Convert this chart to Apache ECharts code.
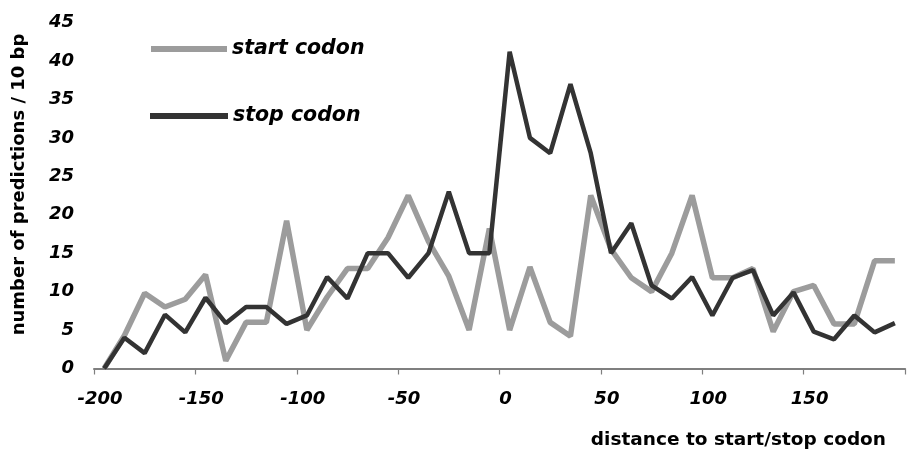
<!DOCTYPE html>
<html>
<head>
<meta charset="utf-8">
<script src="https://cdn.jsdelivr.net/npm/echarts@6/dist/echarts.min.js"></script>
<style>
html,body{margin:0;padding:0;background:#fff;}
#chart{width:908px;height:459px;}
</style>
</head>
<body>
<div id="chart"></div>
<script>
// distance to start/stop codon (bin centres, bp)
var distances = [-195,-185,-175,-165,-155,-145,-135,-125,-115,-105,
                 -95,-85,-75,-65,-55,-45,-35,-25,-15,-5,
                 5,15,25,35,45,55,65,75,85,95,
                 105,115,125,135,145,155,165,175,185,195];
var startCodon = [0,4.3,9.8,8,9,12.2,1,6,6,19.2,
                  5,9.3,13,13,17,22.5,16.5,12,5,18.2,
                  5,13.2,6,4.2,22.5,15.5,11.8,10,15,22.5,
                  11.8,11.8,13,4.8,10,10.8,5.8,5.8,14,14];
var stopCodon = [0,4,2,7,4.7,9.2,5.9,8,8,5.8,
                 6.9,11.9,9.1,15,15,11.8,15,23,15,15,
                 41.2,30,28,37,28,15,18.9,10.8,9.1,11.9,
                 6.9,11.8,12.8,6.9,9.9,4.8,3.8,6.9,4.7,5.9];
var xTicks = [-200,-150,-100,-50,0,50,100,150];
var yTicks = [0,5,10,15,20,25,30,35,40,45];
var seriesNames = ['start codon','stop codon'];
var xTitle = 'distance to start/stop codon';
var yTitle = 'number of predictions / 10 bp';

function pairs(xs, ys){ return xs.map(function(x,i){ return [x, ys[i]]; }); }

var FONT = 'DejaVu Sans';
var chart = echarts.init(document.getElementById('chart'), null, {renderer:'canvas'});
chart.setOption({
  animation:false,
  backgroundColor:'#ffffff',
  grid:{left:94, top:22.5, bottom:90.5, width:822, containLabel:false},
  legend:[
    {data:[seriesNames[0]], left:151, top:39, orient:'vertical', padding:0,
     icon:'rect', itemWidth:76, itemHeight:6,
     textStyle:{fontFamily:FONT, fontWeight:'bold', fontStyle:'italic', fontSize:20.5, color:'#000'}},
    {data:[seriesNames[1]], left:150, top:106, orient:'vertical', padding:0,
     icon:'rect', itemWidth:78, itemHeight:6,
     textStyle:{fontFamily:FONT, fontWeight:'bold', fontStyle:'italic', fontSize:20.5, color:'#000'}}
  ],
  graphic:[
    {type:'text', right:22, top:431, silent:true,
     style:{text:xTitle, fontFamily:FONT, fontWeight:'bold', fontSize:18.5, fill:'#000'}}
  ],
  xAxis:{
    type:'value', min:-200, max:200, interval:50,
    axisLine:{show:true, onZero:false, lineStyle:{color:'#7f7f7f', width:2}},
    axisTick:{show:true, inside:false, length:6, lineStyle:{color:'#7f7f7f', width:1.2}},
    splitLine:{show:false},
    axisLabel:{margin:22, padding:[0,0,0,12], fontFamily:FONT, fontWeight:'bold', fontStyle:'italic', fontSize:18, color:'#000',
      formatter:function(v){ return xTicks.indexOf(v) >= 0 ? String(v) : ''; }}
  },
  yAxis:{
    type:'value', min:0, max:45, interval:5,
    name:yTitle, nameLocation:'middle', nameGap:66,
    nameTextStyle:{fontFamily:FONT, fontWeight:'bold', fontSize:18, color:'#000', padding:[0,0,0,22]},
    axisLine:{show:false}, axisTick:{show:false}, splitLine:{show:false},
    axisLabel:{margin:20, fontFamily:FONT, fontWeight:'bold', fontStyle:'italic', fontSize:18, color:'#000',
      formatter:function(v){ return yTicks.indexOf(v) >= 0 ? String(v) : ''; }}
  },
  series:[
    {name:seriesNames[0], type:'line', data:pairs(distances,startCodon), symbol:'none',
     itemStyle:{color:'#9c9c9c'}, lineStyle:{color:'#9c9c9c', width:5.5}, z:2},
    {name:seriesNames[1], type:'line', data:pairs(distances,stopCodon), symbol:'none',
     itemStyle:{color:'#333333'}, lineStyle:{color:'#333333', width:4.5}, z:3}
  ]
});
</script>
</body>
</html>
